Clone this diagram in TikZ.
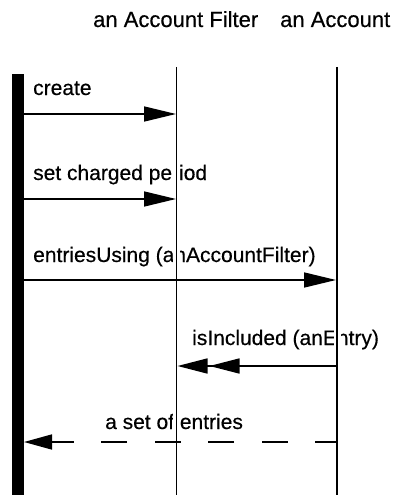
\documentclass[tikz,border=0pt]{standalone}
\usepackage{fontspec}
\setmainfont{Liberation Sans}
\newfontfamily\lblfont[FakeBold=0.4]{Liberation Sans}
\usetikzlibrary{arrows.meta}
\begin{document}
\begin{tikzpicture}[x=1pt,y=-1pt,
  lbl/.style={anchor=base west, inner sep=0pt, font=\lblfont\fontsize{21}{25}\selectfont},
  head/.style={anchor=base west, inner sep=0pt, font=\lblfont\fontsize{22}{26}\selectfont},
  lifeline/.style={line width=1.8pt},
  halo/.style={white, line width=7pt},
  msg/.style={line width=1.6pt, -{Triangle[length=32pt,width=15pt]}},
  dblmsg/.style={line width=1.6pt, -{Triangle[length=30pt,width=15pt,sep=2pt]Triangle[length=30pt,width=15pt]}},
  retmsg/.style={line width=1.6pt, dash pattern=on 26pt off 27.5pt, dash phase=4pt, -{Triangle[length=28pt,width=15pt]}}]
\useasboundingbox (0,0) rectangle (395,495);

% object names
\node[head] (filterName)  at (93,27)  {an Account Filter};
\node[head] (accountName) at (280,27) {an Account};

% message labels
\node[lbl] (lCreate)  at (33,95)   {create};
\node[lbl] (lPeriod)  at (33,180)  {set charged period};
\node[lbl] (lEntries) at (33,262)  {entriesUsing (anAccountFilter)};
\node[lbl] (lInc)     at (192,345) {isIncluded (anEntry)};
\node[lbl] (lSet)     at (105,429) {a set of entries};

% lifeline end points
\coordinate (fTop) at (176.5,67);  \coordinate (fBot) at (176.5,495);
\coordinate (aTop) at (337,67);    \coordinate (aBot) at (337,495);

% activation bar of the caller
\fill (12,74) rectangle (24,495);

% lifelines with a white backing that clears the text beneath them
\draw[halo] (fTop) -- (fBot);
\draw[halo] (aTop) -- (aBot);
\draw[lifeline] (fTop) -- (fBot);
\draw[lifeline] (aTop) -- (aBot);

% message end points
\coordinate (m1s) at (24,114);  \coordinate (m1e) at (176,114);
\coordinate (m2s) at (24,199);  \coordinate (m2e) at (176,199);
\coordinate (m3s) at (24,280);  \coordinate (m3e) at (336,280);
\coordinate (m4s) at (337,366); \coordinate (m4e) at (177.5,366);
\coordinate (m5s) at (337,442); \coordinate (m5e) at (24,442);

% messages
\draw[msg] (m1s) -- (m1e);
\draw[msg] (m2s) -- (m2e);
\draw[msg] (m3s) -- (m3e);
\draw[dblmsg] (m4s) -- (m4e);
\draw[retmsg] (m5s) -- (m5e);
\end{tikzpicture}
\end{document}
